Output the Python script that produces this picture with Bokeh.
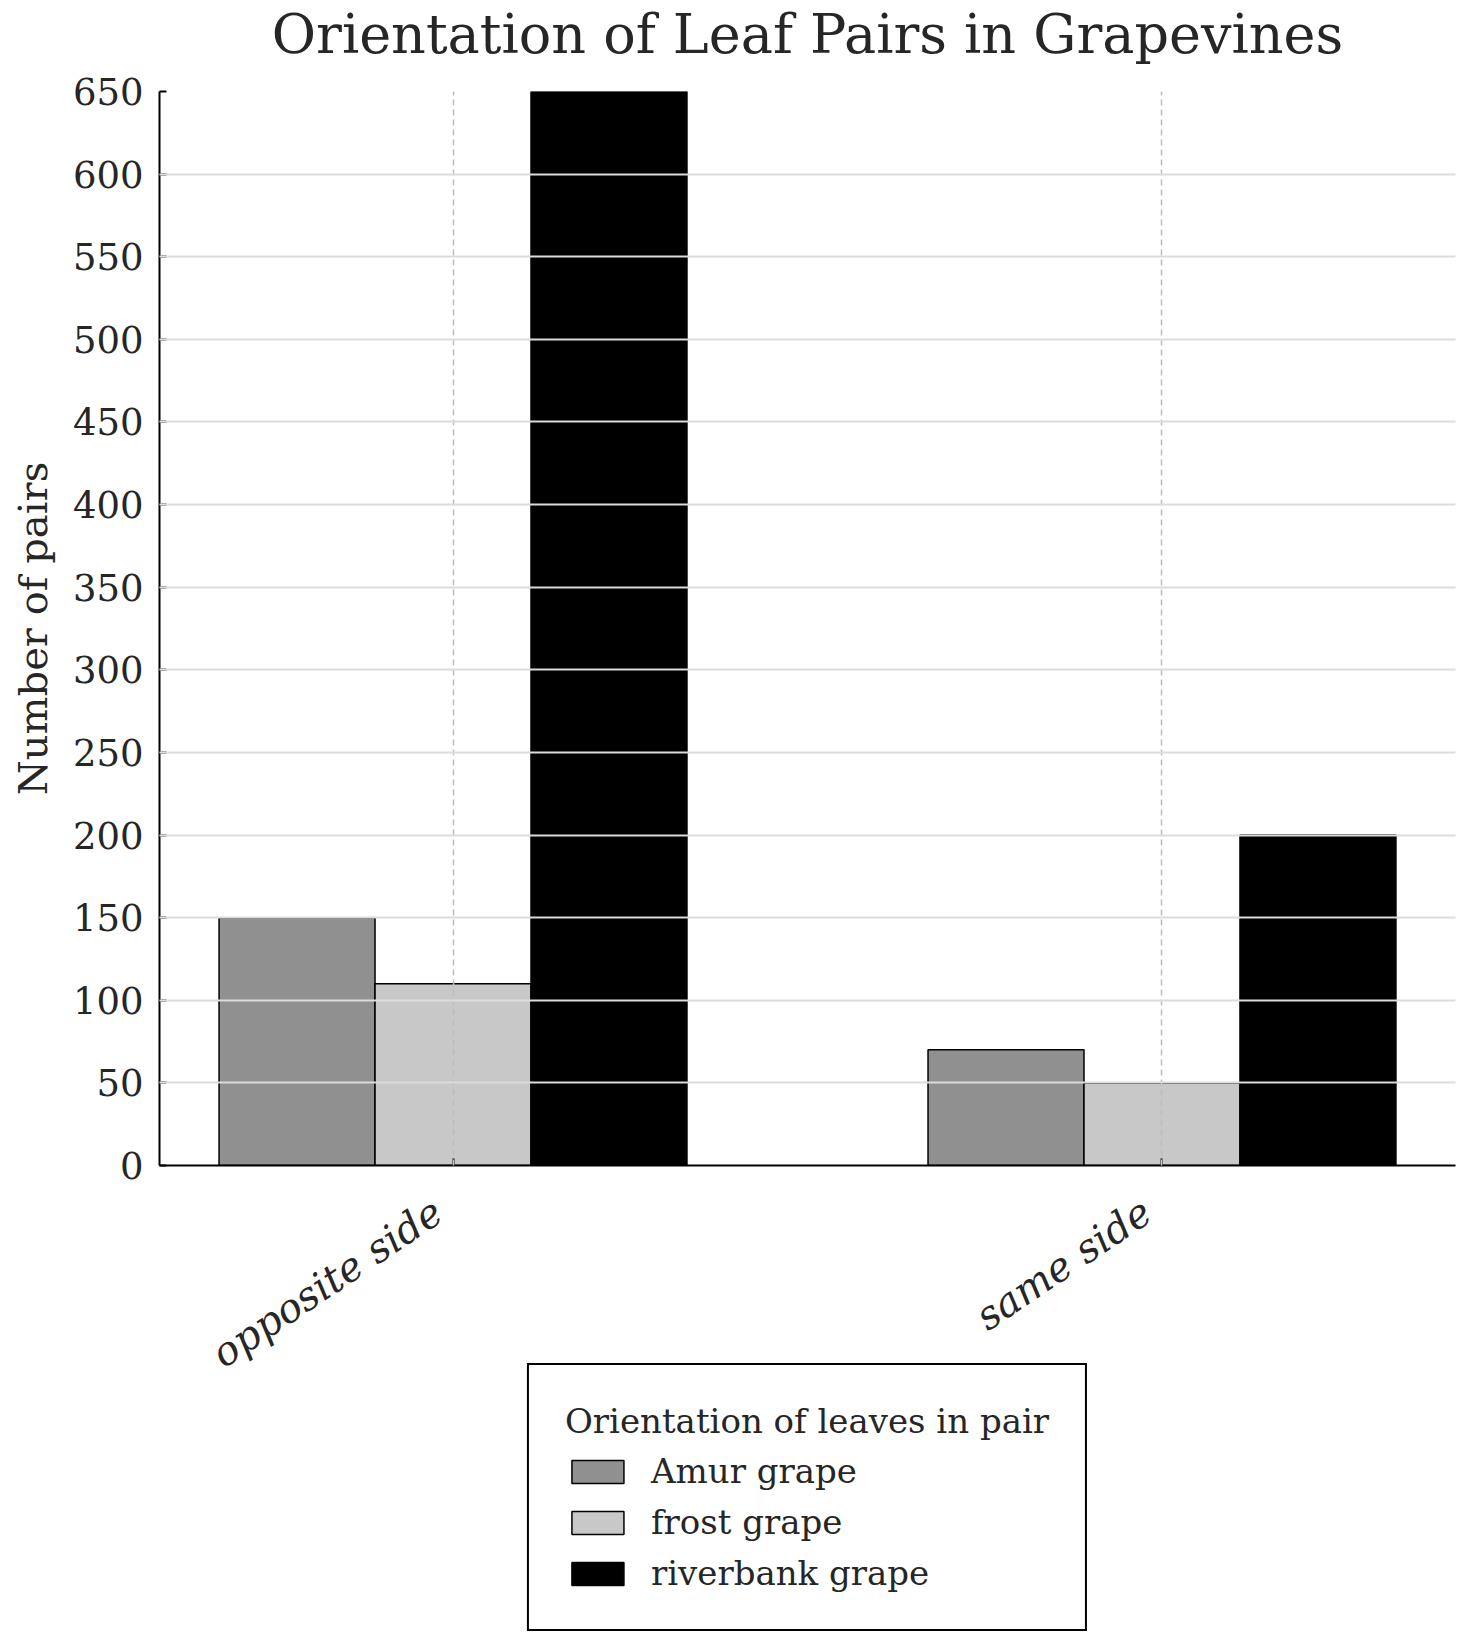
from bokeh.plotting import figure
from bokeh.layouts import column
from bokeh.models import Range1d, FixedTicker, Legend, LegendItem
from bokeh.core.properties import value
from bokeh.embed import file_html
from bokeh.resources import INLINE

categories = ["opposite side", "same side"]
series = ["Amur grape", "frost grape", "riverbank grape"]
amur = [150, 70]
frost = [110, 50]
riverbank = [650, 200]
colors = ["#909090", "#c8c8c8", "#000000"]
y_ticks = list(range(0, 651, 50))
title_text = "Orientation of Leaf Pairs in Grapevines"
y_label = "Number of pairs"
legend_title = "Orientation of leaves in pair"

SERIF = "DejaVu Serif"
TXT = "#262626"
W, H = 1470, 1650
LEFT, RIGHT = 159, 15
TOP_H = 67          # title strip
P_TOP, FRAME_H, P_BOT = 24, 1074, 22
H2 = H - TOP_H - P_TOP - FRAME_H - P_BOT   # legend / category-label strip
LEG_MARGIN, LEG_H = 176, 266

x_range = Range1d(-0.414, 1.414)

# ---- title strip ----
p0 = figure(width=W, height=TOP_H, output_backend="svg", toolbar_location=None,
            x_range=Range1d(0, 1), y_range=Range1d(0, TOP_H))
p0.min_border_left = LEFT
p0.min_border_right = RIGHT
p0.min_border_top = 0
p0.min_border_bottom = 0
p0.axis.visible = False
p0.grid.visible = False
p0.outline_line_color = None
p0.text(x=[0.5], y=[33], text=[title_text], text_font=value(SERIF),
        text_font_size="54px", text_color=TXT, text_align="center",
        text_baseline="alphabetic")

# ---- main chart ----
p = figure(frame_width=W - LEFT - RIGHT, frame_height=FRAME_H, output_backend="svg",
           toolbar_location=None, x_range=x_range, y_range=Range1d(0, 650))
p.min_border_left = LEFT
p.min_border_right = RIGHT
p.min_border_top = P_TOP
p.min_border_bottom = P_BOT
p.outline_line_color = None

bar_w = 0.22
offsets = [-0.22, 0.0, 0.22]
data = [amur, frost, riverbank]
for vals, off, col in zip(data, offsets, colors):
    xs = [i + off for i in range(len(categories))]
    p.vbar(x=xs, top=vals, bottom=0, width=bar_w, fill_color=col,
           line_color="black", line_width=1.5)

# grids (drawn above the bars, like the reference)
p.ygrid.ticker = FixedTicker(ticks=y_ticks)
p.ygrid.grid_line_color = "#dcdcdc"
p.ygrid.grid_line_width = 2
p.ygrid.level = "guide"
p.xgrid.ticker = FixedTicker(ticks=list(range(len(categories))))
p.xgrid.grid_line_color = "#bdbdbd"
p.xgrid.grid_line_dash = "6 4"
p.xgrid.grid_line_width = 1.5
p.xgrid.level = "guide"

# axes
p.yaxis.ticker = FixedTicker(ticks=y_ticks)
p.yaxis.axis_label = y_label
p.yaxis.axis_label_text_font = SERIF
p.yaxis.axis_label_text_font_style = "normal"
p.yaxis.axis_label_text_font_size = "40px"
p.yaxis.axis_label_text_color = TXT
p.yaxis.axis_label_standoff = 14
p.yaxis.major_label_text_font = SERIF
p.yaxis.major_label_text_font_size = "37px"
p.yaxis.major_label_text_color = TXT
p.yaxis.major_tick_in = 7
p.yaxis.major_tick_out = 0
p.yaxis.minor_tick_line_color = None
p.yaxis.axis_line_width = 2
p.yaxis.major_tick_line_width = 2
p.yaxis.major_label_standoff = 16

# x axis: line + inward ticks here; category names are drawn in the strip below
p.xaxis.ticker = FixedTicker(ticks=list(range(len(categories))))
p.xaxis.major_label_text_font_size = "1px"
p.xaxis.major_label_text_color = None
p.xaxis.major_label_standoff = 0
p.xaxis.major_tick_in = 7
p.xaxis.major_tick_out = 0
p.xaxis.minor_tick_line_color = None
p.xaxis.axis_line_width = 2
p.xaxis.major_tick_line_width = 2

# ---- category labels + legend strip (shares the chart's x scale) ----
p2 = figure(width=W, height=H2, output_backend="svg", toolbar_location=None,
            x_range=x_range, y_range=Range1d(0, H2))
p2.min_border_left = LEFT
p2.min_border_right = RIGHT
p2.min_border_top = 0
p2.min_border_bottom = 0
p2.axis.visible = False
p2.grid.visible = False
p2.outline_line_color = None

p2.text(x=list(range(len(categories))), y=[H2 - 1] * len(categories), text=categories,
        angle=0.5934, x_offset=-28, text_font=value(SERIF), text_font_style="italic",
        text_font_size="40px", text_color=TXT, text_align="right", text_baseline="top")

swatches = []
proxy_y = H2 - LEG_MARGIN - LEG_H / 2   # hidden behind the legend box
for col in colors:
    # legend-only proxies (zero size, covered by the legend background)
    swatches.append(p2.vbar(x=[0.5], top=[proxy_y], bottom=[proxy_y], width=0.001,
                            fill_color=col, line_color="black", line_width=1.5))

legend = Legend(items=[LegendItem(label=s, renderers=[r]) for s, r in zip(series, swatches)],
                title=legend_title, location="top_center", orientation="vertical")
legend.title_text_font = SERIF
legend.title_text_font_style = "normal"
legend.title_text_font_size = "34px"
legend.title_text_color = TXT
legend.title_standoff = 10
legend.label_text_font = SERIF
legend.label_text_font_size = "34px"
legend.label_text_color = TXT
legend.glyph_width = 65
legend.glyph_height = 29
legend.label_standoff = 21
legend.spacing = 11
legend.padding = 36
legend.margin = LEG_MARGIN
legend.border_line_color = "black"
legend.border_line_alpha = 1.0
legend.border_line_width = 2
legend.background_fill_color = "white"
legend.background_fill_alpha = 1.0
p2.add_layout(legend)

layout = column(p0, p, p2, spacing=0)
open("out.html", "w").write(file_html(layout, INLINE))
